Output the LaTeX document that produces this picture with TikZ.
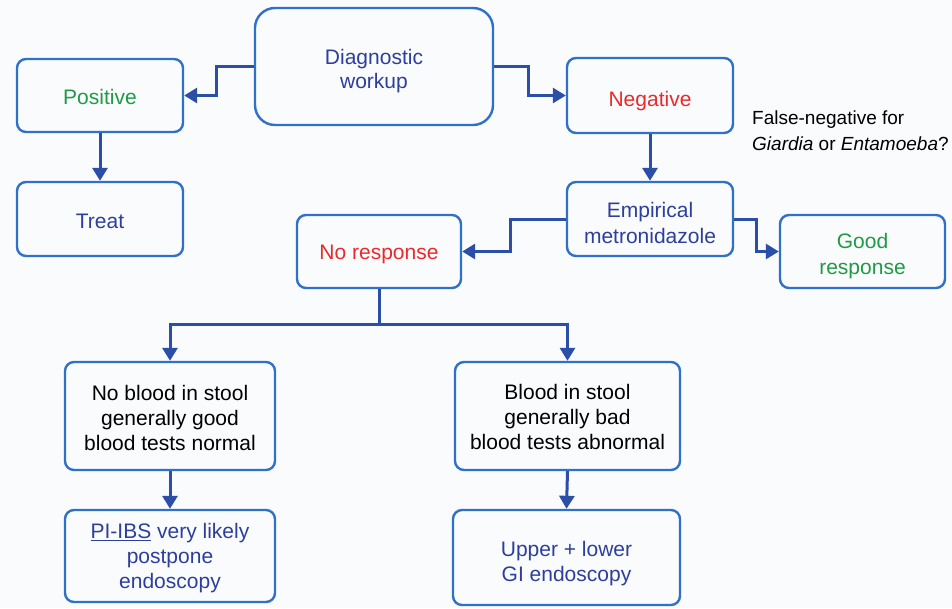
\documentclass[tikz,border=0pt]{standalone}
\usepackage{fontspec}
\setmainfont{Liberation Sans}
\usetikzlibrary{arrows.meta}
\definecolor{boxblue}{HTML}{2F70C8}
\definecolor{linkblue}{HTML}{2B4EA8}
\definecolor{txtblue}{HTML}{2D3F9C}
\definecolor{txtgreen}{HTML}{1F9A45}
\definecolor{txtred}{HTML}{EA2A2A}
\definecolor{bgc}{HTML}{FAFBFD}
\begin{document}
\begin{tikzpicture}[x=1pt,y=-1pt,
  box/.style={draw=boxblue, line width=2.4pt, rounded corners=9pt, inner sep=0pt},
  txt/.style={align=center, font=\fontsize{21}{25}\selectfont, inner sep=0pt},
  link/.style={draw=linkblue, line width=3pt, -{Triangle[width=15pt,length=13pt]}},
  plain/.style={draw=linkblue, line width=3pt}]
\fill[bgc] (0,0) rectangle (952,608);
\useasboundingbox (0,0) rectangle (952,608);

\node[box, rounded corners=20pt, minimum width=238pt, minimum height=117pt] (diag) at (374,66.5) {};
\node[box, minimum width=166pt, minimum height=73pt] (pos) at (100,95.5) {};
\node[box, minimum width=166pt, minimum height=74pt] (treat) at (100,219) {};
\node[box, minimum width=166pt, minimum height=75pt] (neg) at (650,95.5) {};
\node[box, minimum width=166pt, minimum height=74pt] (emp) at (650,219) {};
\node[box, minimum width=165pt, minimum height=73pt] (good) at (862.5,251.5) {};
\node[box, minimum width=164pt, minimum height=73pt] (nores) at (379,251.5) {};
\node[box, minimum width=210pt, minimum height=108pt] (noblood) at (170,416) {};
\node[box, minimum width=225pt, minimum height=108pt] (blood) at (567.5,416) {};
\node[box, minimum width=210pt, minimum height=92pt] (pibs) at (170,556) {};
\node[box, minimum width=227pt, minimum height=95pt] (upper) at (566.5,557.5) {};

\node[txt, text=txtblue, font=\fontsize{21}{24}\selectfont] (diagt) at ([yshift=-4.5pt]diag.center) {Diagnostic\\workup};
\node[txt, text=txtgreen] (post) at ([yshift=-1pt]pos.center) {Positive};
\node[txt, text=txtblue] (treatt) at ([yshift=-2pt]treat.center) {Treat};
\node[txt, text=txtred] (negt) at ([yshift=-5.5pt]neg.center) {Negative};
\node[txt, text=txtblue, font=\fontsize{21}{26}\selectfont] (empt) at ([yshift=-4pt]emp.center) {Empirical\\metronidazole};
\node[txt, text=txtgreen, font=\fontsize{21}{26}\selectfont] (goodt) at ([yshift=-5pt]good.center) {Good\\response};
\node[txt, text=txtred] (norest) at ([yshift=-3pt]nores.center) {No response};
\node[txt, text=black] (nobloodt) at ([yshift=-2pt]noblood.center) {No blood in stool\\generally good\\blood tests normal};
\node[txt, text=black] (bloodt) at ([yshift=-1pt]blood.center) {Blood in stool\\generally bad\\blood tests abnormal};
\node[txt, text=txtblue] (pibst) at ([yshift=-2.5pt]pibs.center) {\underline{PI-IBS} very likely\\postpone\\endoscopy};
\node[txt, text=txtblue] (uppert) at ([yshift=-6pt]upper.center) {Upper + lower\\GI endoscopy};

\node[anchor=west, align=left, inner sep=0pt, font=\fontsize{19}{26}\selectfont] (fn) at (752,131) {False-negative for\\\textit{Giardia} or \textit{Entamoeba}?};

\draw[link] (diag.west) -- ++(-37,0) |- (pos.east);
\draw[link] (diag.east) -- ++(34,0) |- (neg.west);
\draw[link] (pos.south) -- (treat.north);
\draw[link] (neg.south) -- (emp.north);
\draw[link] (emp.west) -- ++(-55,0) |- (nores.east);
\draw[link] (emp.east) -- ++(22,0) |- (good.west);
\draw[plain] (nores.south) -- ++(0,35) coordinate (split);
\draw[link] (split) -| (noblood.north);
\draw[link] (split) -| (blood.north);
\draw[link] (noblood.south) -- (pibs.north);
\draw[link] (blood.south) -- (upper.north);
\end{tikzpicture}
\end{document}
